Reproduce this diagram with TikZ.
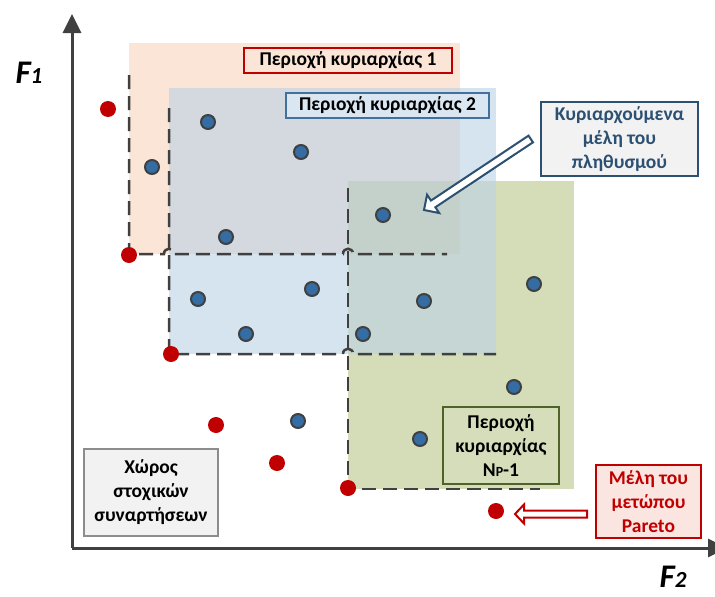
\documentclass[tikz,border=0pt]{standalone}
\usepackage{fontspec}
\setmainfont{Carlito}
\usetikzlibrary{calc,arrows.meta}

\definecolor{axisgray}{RGB}{64,64,64}
\definecolor{paretored}{RGB}{192,0,0}
\definecolor{memberblue}{RGB}{52,108,164}
\definecolor{regionorange}{RGB}{251,229,214}
\definecolor{regionblue}{RGB}{187,210,230}
\definecolor{regiongreen}{RGB}{170,188,114}
\definecolor{domblue}{RGB}{44,80,114}
\definecolor{boxblue}{RGB}{65,113,156}
\definecolor{boxblueFill}{RGB}{218,230,242}
\definecolor{olivegreen}{RGB}{79,98,40}
\definecolor{oliveFill}{RGB}{213,221,187}
\definecolor{pinkFill}{RGB}{251,229,224}
\definecolor{lightgrayFill}{RGB}{242,242,242}
\definecolor{boxgray}{RGB}{140,140,140}

% block arrow: #1 style, #2 tail, #3 tip, #4 shaft half-width, #5 head half-width, #6 head length
\newcommand\blockarrow[6]{%
  \path ($(#3)!#6!(#2)$) coordinate (ba-h);
  \draw[#1] ($(#2)!#4!90:(#3)$) -- ($(ba-h)!#4!90:(#3)$) -- ($(ba-h)!#5!90:(#3)$)
    -- (#3) -- ($(ba-h)!#5!-90:(#3)$) -- ($(ba-h)!#4!-90:(#3)$) -- ($(#2)!#4!-90:(#3)$) -- cycle;}

\begin{document}
\begin{tikzpicture}[x=1pt,y=-1pt,
  axisline/.style={draw=axisgray,line width=3pt,-{Triangle[length=19pt,width=18pt]}},
  dashline/.style={draw=axisgray,line width=2.5pt,dash pattern=on 14pt off 7pt},
  pdot/.style={circle,fill=paretored,inner sep=0pt,minimum size=16pt},
  mdot/.style={circle,fill=memberblue,draw=axisgray,line width=2pt,inner sep=0pt,minimum size=14pt},
  lbl/.style={font=\fontsize{19.5}{24}\selectfont\bfseries,align=center,inner sep=0pt},
  axlabel/.style={font=\fontsize{33}{33}\selectfont\bfseries\itshape,inner sep=0pt}]
\useasboundingbox (0,0) rectangle (715,597);

% dominance regions
\fill[regionorange] (129,43) rectangle (460,254);
\fill[regiongreen,fill opacity=0.5] (348,181) rectangle (574,489);
\fill[regionblue,fill opacity=0.6] (169,88) rectangle (496,354);

% region boundaries
\draw[dashline] (129,75) -- (129,254) -- (164,254) .. controls (164,247) and (174,247) .. (174,254)
  -- (343,254) .. controls (343,247) and (353,247) .. (353,254) -- (447,254);
\draw[dashline] (169,108) -- (169,354) -- (343,354) .. controls (343,347) and (353,347) .. (353,354)
  -- (496,354);
\draw[dashline] (348,188) -- (348,489) -- (540,489);

% axes
\coordinate (origin) at (72,548);
\coordinate (ytop) at (72,14);
\coordinate (xend) at (727,548);
\draw[axisline] (origin) -- (ytop);
\draw[axisline] (origin) -- (xend);
\node[axlabel] (f1) at (29,73) {F\fontsize{23}{23}\selectfont 1};
\node[axlabel] (f2) at (673,577) {F\fontsize{23}{23}\selectfont 2};

% dominated members
\node[mdot] (m1) at (208,122) {};
\node[mdot] (m2) at (301,152) {};
\node[mdot] (m3) at (152,167) {};
\node[mdot] (m4) at (226,237) {};
\node[mdot] (m5) at (383,215) {};
\node[mdot] (m6) at (198,299) {};
\node[mdot] (m7) at (312,289) {};
\node[mdot] (m8) at (246,334) {};
\node[mdot] (m9) at (363,334) {};
\node[mdot] (m10) at (424,301) {};
\node[mdot] (m11) at (534,284) {};
\node[mdot] (m12) at (514,387) {};
\node[mdot] (m13) at (420,439) {};
\node[mdot] (m14) at (298,421) {};

% Pareto front members
\node[pdot] (p1) at (108,109) {};
\node[pdot] (p2) at (129,255) {};
\node[pdot] (p3) at (171,354) {};
\node[pdot] (p4) at (216,425) {};
\node[pdot] (p5) at (277,463) {};
\node[pdot] (p6) at (348,488) {};
\node[pdot] (p7) at (496,511) {};

% labels
\node[lbl,draw=paretored,line width=2pt,fill=regionorange,minimum width=208pt,minimum height=25pt]
  (box1) at (348,60.5) {Περιοχή κυριαρχίας 1};
\node[lbl,draw=boxblue,line width=2pt,fill=boxblueFill,minimum width=203pt,minimum height=25pt]
  (box2) at (387.5,105.5) {Περιοχή κυριαρχίας 2};
\node[lbl,draw=domblue,line width=2.5pt,fill=lightgrayFill,text=domblue,minimum width=157pt,minimum height=74pt]
  (dombox) at (619.5,139) {Κυριαρχούμενα\\μέλη του\\πληθυσμού};
\node[lbl,draw=olivegreen,line width=2.5pt,fill=oliveFill,minimum width=116pt,minimum height=77pt]
  (npbox) at (501,445.5) {Περιοχή\\κυριαρχίας\\N{\fontsize{14}{14}\selectfont P}-1};
\node[lbl,draw=paretored,line width=2pt,fill=pinkFill,text=paretored,minimum width=105pt,minimum height=73pt]
  (paretobox) at (648.5,501.5) {Μέλη του\\μετώπου\\Pareto};
\node[lbl,draw=boxgray,line width=2.5pt,fill=lightgrayFill,minimum width=134pt,minimum height=87pt]
  (spacebox) at (151,492.5) {Χώρος\\στοχικών\\συναρτήσεων};

% pointer arrows
\coordinate (a1tail) at ($(dombox.west)+(-9,0)$);
\coordinate (a1tip) at ($(m5)+(41,-5)$);
\blockarrow{draw=domblue,fill=white,line width=2pt,line join=miter}{a1tail}{a1tip}{4pt}{11pt}{11pt}
\coordinate (a2tail) at ($(paretobox.west)+(-8,12.5)$);
\coordinate (a2tip) at ($(p7)+(19,3)$);
\blockarrow{draw=paretored,fill=white,line width=2pt,line join=miter}{a2tail}{a2tip}{3.5pt}{9.5pt}{9pt}
\end{tikzpicture}
\end{document}
